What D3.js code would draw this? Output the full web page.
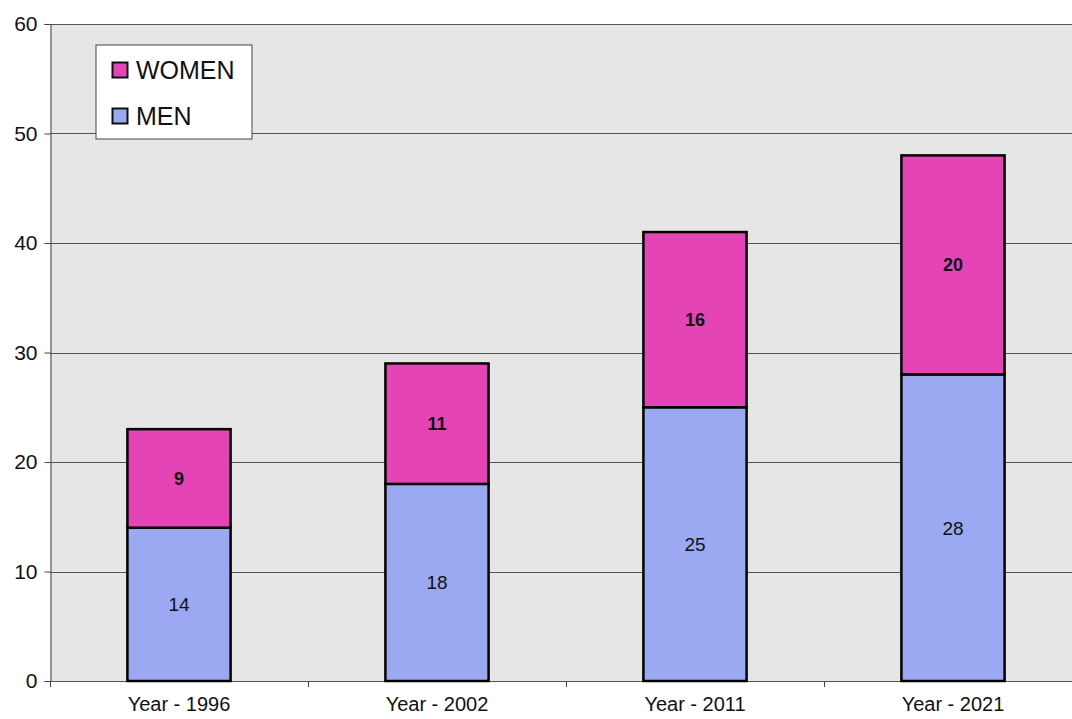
<!DOCTYPE html>
<html>
<head>
<meta charset="utf-8">
<script src="https://cdn.jsdelivr.net/npm/d3@7/dist/d3.min.js"></script>
<style>
  body { margin: 0; background: #fff; }
  text { font-family: 'Liberation Sans', Arial, sans-serif; fill: #111; }
</style>
</head>
<body>
<script>
const years = ['Year - 1996', 'Year - 2002', 'Year - 2011', 'Year - 2021']
const men = [14, 18, 25, 28]
const women = [9, 11, 16, 20]
const yTicks = [0, 10, 20, 30, 40, 50, 60]

const colors = { men: '#9aa9f2', women: '#e444b6' }

function main ({ w, h }) {
  const margin = { top: 24, left: 50, bottom: 38 }
  const plotW = 1032
  const plotH = h - margin.top - margin.bottom

  const svg = d3.select('body')
    .append('svg')
    .attr('width', w)
    .attr('height', h)

  const x = d3.scaleBand()
    .domain(years)
    .range([margin.left, margin.left + plotW])
    .paddingInner(0.6)
    .paddingOuter(0.3)

  const y = d3.scaleLinear()
    .domain([0, 60])
    .range([margin.top + plotH, margin.top])

  svg.append('rect')
    .attr('x', margin.left)
    .attr('y', margin.top)
    .attr('width', plotW)
    .attr('height', plotH)
    .attr('fill', '#e6e6e6')

  svg.append('g')
    .selectAll('line')
    .data(yTicks)
    .join('line')
    .attr('x1', margin.left)
    .attr('x2', margin.left + plotW)
    .attr('y1', d => Math.round(y(d)) + 0.5)
    .attr('y2', d => Math.round(y(d)) + 0.5)
    .attr('stroke', '#555')
    .attr('stroke-width', 1)

  const rows = years.map((yr, i) => ({ year: yr, men: men[i], women: women[i] }))
  const series = d3.stack().keys(['men', 'women'])(rows)

  svg.append('g')
    .selectAll('g')
    .data(series)
    .join('g')
    .attr('fill', d => colors[d.key])
    .selectAll('rect')
    .data(d => d)
    .join('rect')
    .attr('x', d => x(d.data.year))
    .attr('y', d => y(d[1]))
    .attr('width', x.bandwidth())
    .attr('height', d => y(d[0]) - y(d[1]))
    .attr('stroke', '#000')
    .attr('stroke-width', 2.5)

  const labels = svg.append('g')
  series.forEach(s => {
    labels.selectAll(null)
      .data(s)
      .join('text')
      .attr('x', d => x(d.data.year) + x.bandwidth() / 2)
      .attr('y', d => (y(d[0]) + y(d[1])) / 2)
      .attr('dy', '0.36em')
      .attr('text-anchor', 'middle')
      .attr('font-size', s.key === 'women' ? 18 : 19)
      .attr('font-weight', s.key === 'women' ? 'bold' : 'normal')
      .text(d => d.data[s.key])
  })

  const yAxis = d3.axisLeft(y)
    .tickValues(yTicks)
    .tickSize(6)
    .tickPadding(7)
  svg.append('g')
    .attr('transform', `translate(${margin.left + 0.5},0)`)
    .call(yAxis)
    .call(g => g.selectAll('text').attr('font-size', 21).attr('font-family', null))
    .call(g => g.selectAll('line,path').attr('stroke', '#444'))

  const xAxis = d3.axisBottom(x).tickSize(0).tickPadding(15)
  svg.append('g')
    .attr('transform', `translate(0,${Math.round(y(0)) + 0.5})`)
    .call(xAxis)
    .call(g => g.select('.domain').remove())
    .call(g => g.selectAll('text').attr('font-size', 20).attr('font-family', null))

  // category separators
  svg.append('g')
    .selectAll('line')
    .data(d3.range(years.length + 1))
    .join('line')
    .attr('x1', i => margin.left + i * x.step() + 0.5)
    .attr('x2', i => margin.left + i * x.step() + 0.5)
    .attr('y1', Math.round(y(0)))
    .attr('y2', Math.round(y(0)) + 6)
    .attr('stroke', '#444')

  // legend
  const legend = svg.append('g').attr('transform', 'translate(96,45)')
  legend.append('rect')
    .attr('width', 156)
    .attr('height', 94)
    .attr('fill', '#fff')
    .attr('stroke', '#444')
  const items = [{ key: 'women', label: 'WOMEN' }, { key: 'men', label: 'MEN' }]
  items.forEach((it, i) => {
    const row = legend.append('g').attr('transform', `translate(16,${25 + i * 46})`)
    row.append('rect')
      .attr('x', 0.5)
      .attr('y', -7.5)
      .attr('width', 15)
      .attr('height', 15)
      .attr('fill', colors[it.key])
      .attr('stroke', '#111')
      .attr('stroke-width', 2)
    row.append('text')
      .attr('x', 24)
      .attr('dy', '0.36em')
      .attr('font-size', 25)
      .text(it.label)
  })
}

main({ w: 1072, h: 719 })
</script>
</body>
</html>
